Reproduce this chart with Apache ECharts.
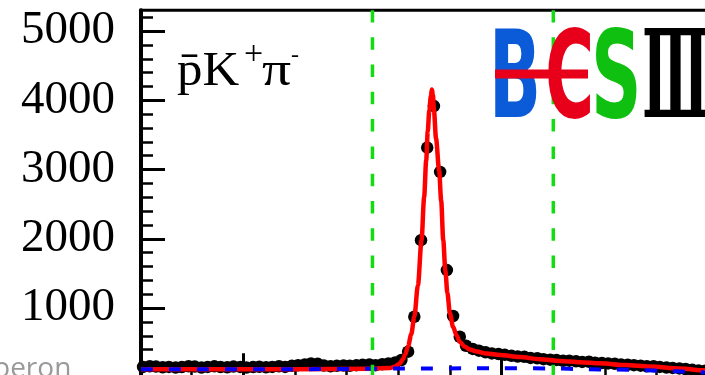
<!DOCTYPE html>
<html><head><meta charset="utf-8">
<script src="https://cdn.jsdelivr.net/npm/echarts@6/dist/echarts.min.js"></script>
<style>html,body{margin:0;padding:0;background:#fff}#c{width:705px;height:375px}</style>
</head><body><div id="c"></div>
<script>
// Bin centres (GeV) and event counts
const binCenters = [2.2306,2.2319,2.2331,2.2344,2.2356,2.2369,2.2381,2.2394,2.2406,2.2419,
  2.2431,2.2444,2.2456,2.2469,2.2481,2.2494,2.2506,2.2519,2.2531,2.2544,
  2.2556,2.2569,2.2581,2.2594,2.2606,2.2619,2.2631,2.2644,2.2656,2.2669,
  2.2681,2.2694,2.2706,2.2719,2.2731,2.2744,2.2756,2.2769,2.2781,2.2794,
  2.2806,2.2819,2.2831,2.2844,2.2856,2.2869,2.2881,2.2894,2.2906,2.2919,
  2.2931,2.2944,2.2956,2.2969,2.2981,2.2994,2.3006,2.3019,2.3031,2.3044,
  2.3056,2.3069,2.3081,2.3094,2.3106,2.3119,2.3131,2.3144,2.3156,2.3169,
  2.3181,2.3194,2.3206,2.3219,2.3231,2.3244,2.3256,2.3269,2.3281,2.3294,
  2.3306,2.3319,2.3331,2.3344,2.3356,2.3369,2.3381,2.3394];
const counts = [150,160,155,145,150,140,148,160,155,142,
  150,158,148,145,155,150,140,148,152,145,
  150,160,150,165,175,185,200,195,170,160,
  165,170,165,175,180,185,175,190,200,215,
  250,370,874,1980,3317,3917,2966,1548,885,586,
  455,410,385,360,345,335,325,310,300,295,
  280,275,262,255,250,238,240,230,222,225,
  210,205,200,195,185,180,175,168,160,158,
  150,140,135,128,120,108,100,95];
// Total fit curve (red)
const fitX = [2.2302,2.26,2.275,2.2784,2.2794,2.2803,2.2809,2.2813,2.2819,2.2825,
  2.2831,2.2838,2.2845,2.2850,2.2854,2.2857,2.2860,2.2863,2.2865,2.2867,
  2.2869,2.2873,2.2879,2.2883,2.2887,2.2891,2.2895,2.2900,2.2906,2.2913,
  2.2919,2.2929,2.2939,2.2952,2.2971,2.2997,2.3035,2.3074,2.3113,2.3152,
  2.3190,2.3239,2.3287,2.3345,2.3393,2.3502];
const fitY = [115,117,124,134,156,200,260,322,450,620,
  874,1330,1980,2600,3134,3550,3855,4060,4157,4080,
  3855,3450,2990,2550,1980,1550,1216,920,730,600,
  510,440,400,372,343,322,292,262,237,218,
  202,177,156,127,101,72];
// Background curve (blue dashed)
const bkgX = [2.2302,2.26,2.28,2.30,2.31,2.316,2.322,2.327,2.332,2.338,2.3502];
const bkgY = [115,117,126,130,128,117,112,104,91,74,45];
// Signal window (green dashed), drawn from y = 0 to the top of the frame
const signalWindow = [2.275, 2.31];
const yRange = [0, 5300];
// Ticks
const yTickLabels = [1000,2000,3000,4000,5000];
const yMinorTicks = [200,400,600,800,1200,1400,1600,1800,2200,2400,2600,2800,3200,3400,3600,3800,4200,4400,4600,4800,5200];
const xMajorTicks = [2.25,2.30,2.35];
const xMinorTicks = [2.24,2.26,2.27,2.28,2.29,2.31,2.32,2.33,2.34];

const zip = (a,b)=>a.map((v,i)=>[v,b[i]]);
const chart = echarts.init(document.getElementById('c'), null, {renderer:'canvas'});
const X_MIN = 2.2302, X_MAX = 2.3502;
const greenSeries = signalWindow.map(v=>({
  type:'line', data:[[v,yRange[0]],[v,yRange[1]]], showSymbol:false, z:5, silent:true,
  lineStyle:{color:'#11dd11',width:3.5,type:[12.5,14.8]}
}));
chart.setOption({
  animation:false,
  backgroundColor:'#fff',
  grid:{left:141, top:10.3, width:620, height:367, containLabel:false, outerBoundsMode:'none',
        show:true, borderColor:'#000', borderWidth:3, backgroundColor:'transparent'},
  xAxis:[
    {type:'value', min:X_MIN, max:X_MAX, axisLine:{show:true,lineStyle:{color:'#000',width:3}},
     axisTick:{show:true,inside:true,length:12,customValues:xMinorTicks,lineStyle:{color:'#000',width:2.5}},
     axisLabel:{show:false}, splitLine:{show:false}},
    {type:'value', min:X_MIN, max:X_MAX, position:'bottom', axisLine:{show:false},
     axisTick:{show:true,inside:true,length:24,customValues:xMajorTicks,lineStyle:{color:'#000',width:3}},
     axisLabel:{show:false}, splitLine:{show:false}}
  ],
  yAxis:[
    {type:'value', min:yRange[0], max:yRange[1], position:'left', axisLine:{show:true,lineStyle:{color:'#000',width:4}},
     axisTick:{show:true,inside:true,length:24,customValues:yTickLabels,lineStyle:{color:'#000',width:3}},
     axisLabel:{show:true,customValues:yTickLabels,formatter:v=>String(v),margin:26,color:'#000',fontFamily:'Liberation Serif',fontSize:47},
     splitLine:{show:false}},
    {type:'value', min:yRange[0], max:yRange[1], position:'left', axisLine:{show:false},
     axisTick:{show:true,inside:true,length:12,customValues:yMinorTicks,lineStyle:{color:'#000',width:2.5}},
     axisLabel:{show:false}, splitLine:{show:false}}
  ],
  series:[
    {type:'scatter', data:zip(binCenters,counts), symbol:'circle', symbolSize:12.5,
     itemStyle:{color:'#000', opacity:1}, z:2, silent:true},
    {type:'line', data:zip(fitX,fitY), showSymbol:false, smooth:0.3, smoothMonotone:'x',
     lineStyle:{color:'#ff0000',width:4.5}, z:3, silent:true},
    {type:'line', data:zip(bkgX,bkgY), showSymbol:false, smooth:0.3,
     lineStyle:{color:'#0000ff',width:4,type:[12,16]}, z:4, silent:true}
  ].concat(greenSeries),
  graphic:[
    {type:'text', x:177, y:72, scaleX:1.06, z:10, style:{text:'p\u0304K', font:'normal 48px "Liberation Serif"', fill:'#000', verticalAlign:'middle'}},
    {type:'text', x:244, y:55, z:10, style:{text:'+', font:'normal 34px "Liberation Serif"', fill:'#000', verticalAlign:'middle'}},
    {type:'text', x:262, y:72, scaleX:1.2, z:10, style:{text:'\u03c0', font:'normal 48px "Liberation Serif"', fill:'#000', verticalAlign:'middle'}},
    {type:'text', x:291, y:56, z:10, style:{text:'-', font:'normal 24px "Liberation Serif"', fill:'#000', verticalAlign:'middle'}},
    {type:'text', x:489, y:85, scaleX:0.56, z:10, style:{text:'B', font:'bold 122px "DejaVu Sans"', fill:'#0b5bd8', verticalAlign:'middle'}},
    {type:'text', x:545, y:85, scaleX:0.55, z:10, style:{text:'C', font:'bold 122px "DejaVu Sans"', fill:'#e8001a', verticalAlign:'middle'}},
    {type:'rect', z:11, shape:{x:495, y:69.5, width:93, height:9}, style:{fill:'#e8001a'}},
    {type:'text', x:591, y:85, scaleX:0.575, z:10, style:{text:'S', font:'bold 122px "DejaVu Sans"', fill:'#10c010', verticalAlign:'middle'}},
    {type:'text', x:642, y:85, scaleX:0.45, z:10, style:{text:'\u2162', font:'bold 122px "DejaVu Serif"', fill:'#000', verticalAlign:'middle'}},
    {type:'text', x:-7, y:369, z:10, style:{text:'peron', font:'normal 28px "Open Sans"', fill:'#999', verticalAlign:'middle'}}
  ]
});
</script>
</body></html>
